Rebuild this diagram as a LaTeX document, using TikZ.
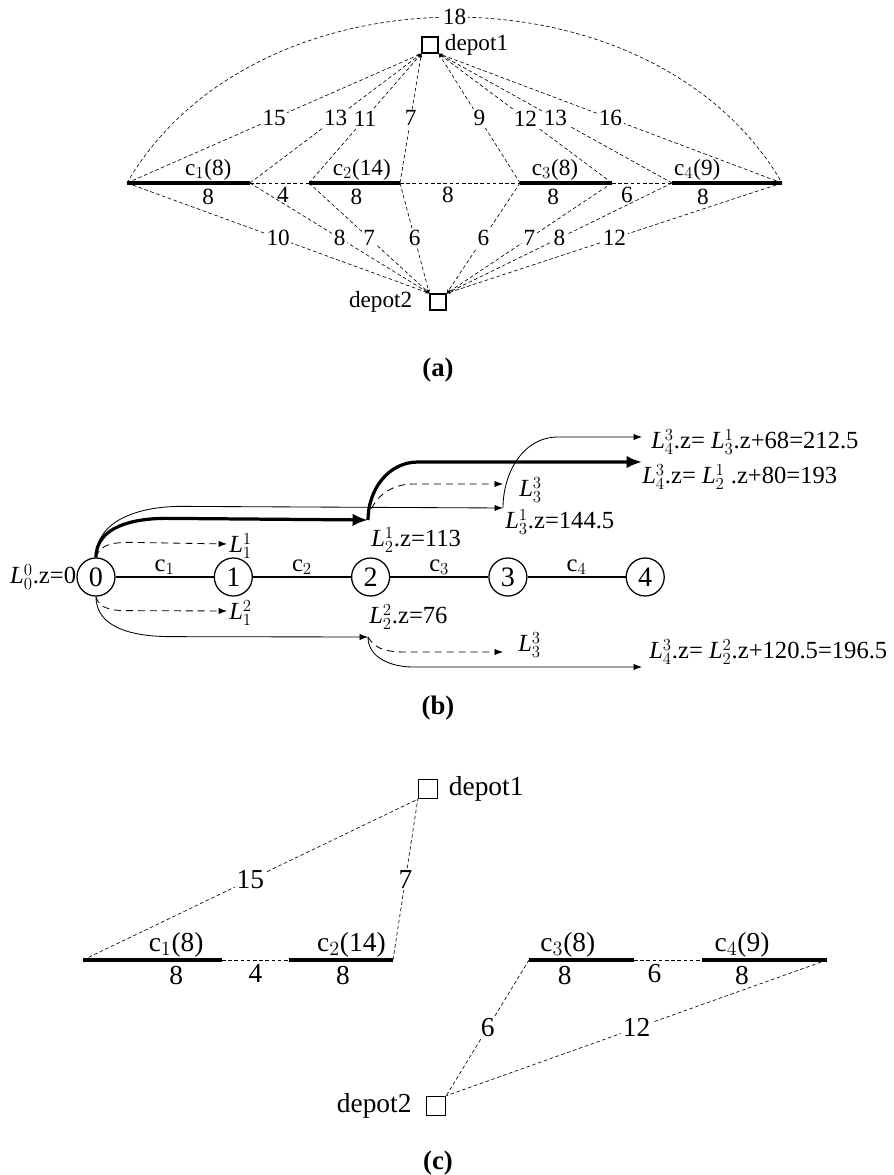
\documentclass[tikz,border=0pt]{standalone}
\usepackage{fontspec}
\setmainfont{Liberation Serif}
\usetikzlibrary{arrows.meta,positioning,calc}
\newcommand{\fsa}{\fontsize{16.5}{19}\selectfont}
\newcommand{\fsb}{\fontsize{17.5}{20}\selectfont}
\newcommand{\fsv}{\fontsize{20}{22}\selectfont}
\newcommand{\fsc}{\fontsize{19.5}{22}\selectfont}
\newcommand{\fcap}{\fontsize{19}{22}\selectfont}
\newcommand{\Lv}[2]{\textit{L}$^{#2}_{#1}$}
\tikzset{
  %% depot square
  depot/.style={rectangle,draw,line width=1pt,minimum size=0.4cm,inner sep=0pt},
  %% required (served) arc
  seg/.style={line width=2.2pt},
  %% deadhead link
  lnk/.style={line width=0.45pt,dash pattern=on 2.6pt off 1.8pt},
  lnkt/.style={lnk,-{Stealth[length=3pt,width=2.2pt]}},
  %% weights on links
  wgt/.style={fill=white,inner sep=1.2pt,font=\fsa},
  wgtc/.style={fill=white,inner sep=1.2pt,font=\fsc},
  abv/.style={above,inner sep=1pt},
  blw/.style={below,inner sep=3pt},
  %% label graph
  vtx/.style={circle,draw,line width=0.9pt,minimum size=0.95cm,inner sep=0pt,font=\fsv},
  base/.style={line width=1pt},
  thn/.style={line width=0.6pt,-{Latex[length=6pt,width=4.5pt]}},
  thk/.style={line width=2.3pt,-{Latex[length=11pt,width=9pt]}},
  dsh/.style={line width=0.6pt,dash pattern=on 5pt off 3.5pt,-{Latex[length=6pt,width=4.5pt]}},
  lbl/.style={font=\fsa,inner sep=0pt},
  lblb/.style={font=\fsb,inner sep=0pt,anchor=west},
  captxt/.style={font=\fcap\bfseries},
}
\begin{document}
\begin{tikzpicture}[x=0.025cm,y=-0.025cm]
  \useasboundingbox (0,0) rectangle (893,1175);

  %% ---- (a) complete graph ----
  \node[depot] (d1) at (430,45) {};
  \node[lbl,right=0.15cm of d1] (d1t) {depot1};
  \node[depot] (d2) at (438,302) {};
  \node[lbl,left=0.42cm of d2] (d2t) {depot2};

  \coordinate (p1) at (127,183);
  \coordinate (p2) at (250,183);
  \coordinate (p3) at (309,183);
  \coordinate (p4) at (400,183);
  \coordinate (p5) at (520,183);
  \coordinate (p6) at (612,183);
  \coordinate (p7) at (672,183);
  \coordinate (p8) at (782,183);

  %% required arcs
  \draw[seg] (p1) -- node[abv,font=\fsa,pos=0.66]{c$_1$(8)} node[blw,font=\fsa,pos=0.66]{8} (p2);
  \draw[seg] (p3) -- node[abv,font=\fsa,pos=0.58]{c$_2$(14)} node[blw,font=\fsa,pos=0.52]{8} (p4);
  \draw[seg] (p5) -- node[abv,font=\fsa,pos=0.38]{c$_3$(8)} node[blw,font=\fsa,pos=0.36]{8} (p6);
  \draw[seg] (p7) -- node[abv,font=\fsa,pos=0.23]{c$_4$(9)} node[blw,font=\fsa,pos=0.28]{8} (p8);

  %% links between arcs
  \draw[lnk] (p2) -- node[blw,font=\fsa,pos=0.56]{4} (p3);
  \draw[lnk] (p4) -- node[blw,font=\fsa,pos=0.4]{8} (p5);
  \draw[lnk] (p6) -- node[blw,font=\fsa,pos=0.25]{6} (p7);
  \draw[lnk] (p1) to[bend left=60] node[wgt]{18} (p8);

  %% links to depot1
  \draw[lnkt] (p1) -- node[wgt]{15} (d1.south west);
  \draw[lnkt] (p2) -- node[wgt]{13} (d1.south west);
  \draw[lnkt] (p3) -- node[wgt]{11} (d1.south west);
  \draw[lnkt] (p4) -- node[wgt]{7} (d1.south west);
  \draw[lnkt] (p5) -- node[wgt]{9} (d1.south east);
  \draw[lnkt] (p6) -- node[wgt]{12} (d1.south east);
  \draw[lnkt] (p7) -- node[wgt]{13} (d1.south east);
  \draw[lnkt] (p8) -- node[wgt]{16} (d1.south east);

  %% links to depot2
  \draw[lnkt] (p1) -- node[wgt]{10} (d2.north west);
  \draw[lnkt] (p2) -- node[wgt]{8} (d2.north west);
  \draw[lnkt] (p3) -- node[wgt]{7} (d2.north west);
  \draw[lnkt] (p4) -- node[wgt]{6} (d2.north west);
  \draw[lnkt] (p5) -- node[wgt]{6} (d2.north east);
  \draw[lnkt] (p6) -- node[wgt]{7} (d2.north east);
  \draw[lnkt] (p7) -- node[wgt]{8} (d2.north east);
  \draw[lnkt] (p8) -- node[wgt]{12} (d2.north east);

  \node[captxt] (capa) at (438,370) {(a)};

  %% ---- (b) labels ----
  \node[vtx] (n0) at (96,577) {0};
  \node[vtx,right=2.45cm of n0] (n1) {1};
  \node[vtx,right=2.45cm of n1] (n2) {2};
  \node[vtx,right=2.45cm of n2] (n3) {3};
  \node[vtx,right=2.45cm of n3] (n4) {4};
  \draw[base] (n0) -- node[abv,font=\fsb]{c$_1$} (n1);
  \draw[base] (n1) -- node[abv,font=\fsb]{c$_2$} (n2);
  \draw[base] (n2) -- node[abv,font=\fsb]{c$_3$} (n3);
  \draw[base] (n3) -- node[abv,font=\fsb]{c$_4$} (n4);
  \node[lblb,anchor=east,left=0pt of n0] (l00t) {\Lv{0}{0}.z=0};

  \coordinate (l11) at (227,544);
  \coordinate (l12) at (227,611);
  \coordinate (l21) at (368,520);
  \coordinate (l22) at (368,637);
  \coordinate (l31) at (503,508);
  \coordinate (l33a) at (503,484);
  \coordinate (l33b) at (503,652);
  \coordinate (l43a) at (642,462);
  \coordinate (l43b) at (642,437);
  \coordinate (l43c) at (642,667);

  %% from L_0^0
  \draw[dsh] (n0.north) to[out=75,in=180] ++(35,-15) -- (l11);
  \draw[dsh] (n0.south) to[out=-75,in=180] ++(35,14) -- (l12);
  \draw[thn] (n0.north) to[out=90,in=180] ++(85,-51) -- (l31);
  \draw[thk] (n0.north) to[out=90,in=180] ++(70,-39) -- (l21);
  \draw[thn] (n0.south) to[out=-90,in=180] ++(75,40) -- (l22);

  %% onward extensions
  \draw[thk] (l21) to[out=90,in=180] ++(50,-58) -- (l43a);
  \draw[dsh] (l21) to[out=80,in=180] ++(45,-36) -- (l33a);
  \draw[thn] (l31) to[out=90,in=180] ++(55,-71) -- (l43b);
  \draw[dsh] (l22) to[out=-60,in=180] ++(40,15) -- (l33b);
  \draw[thn] (l22) to[out=-90,in=180] ++(45,30) -- (l43c);

  \node[lblb] (l11t) at ($(l11)+(2,2)$) {\Lv{1}{1}};
  \node[lblb] (l12t) at ($(l12)+(2,2)$) {\Lv{1}{2}};
  \node[lblb] (l21t) at ($(l21)+(3,20)$) {\Lv{2}{1}.z=113};
  \node[lblb] (l22t) at ($(l22)+(1,-20)$) {\Lv{2}{2}.z=76};
  \node[lblb] (l31t) at ($(l31)+(2,14)$) {\Lv{3}{1}.z=144.5};
  \node[lblb] (l33at) at ($(l33a)+(16,6)$) {\Lv{3}{3}};
  \node[lblb] (l33bt) at ($(l33b)+(15,-7)$) {\Lv{3}{3}};
  \node[lblb] (l43at) at ($(l43a)+(0,15)$) {\Lv{4}{3}.z= \Lv{2}{1} .z+80=193};
  \node[lblb] (l43bt) at ($(l43b)+(9,5)$) {\Lv{4}{3}.z= \Lv{3}{1}.z+68=212.5};
  \node[lblb] (l43ct) at ($(l43c)+(7,-15)$) {\Lv{4}{3}.z= \Lv{2}{2}.z+120.5=196.5};

  \node[captxt] (capb) at (438,708) {(b)};

  %% ---- (c) resulting routes ----
  \node[depot,minimum size=0.475cm] (e1) at (428,789) {};
  \node[right=0.26cm of e1,inner sep=0pt,font=\fsc] (e1t) {depot1};
  \node[depot,minimum size=0.475cm] (e2) at (436,1106) {};
  \node[left=0.35cm of e2,inner sep=0pt,font=\fsc] (e2t) {depot2};

  \coordinate (q1) at (83,960);
  \coordinate (q2) at (222,960);
  \coordinate (q3) at (289,960);
  \coordinate (q4) at (393,960);
  \coordinate (q5) at (529,960);
  \coordinate (q6) at (634,960);
  \coordinate (q7) at (702,960);
  \coordinate (q8) at (827,960);

  \draw[seg] (q1) -- node[abv,font=\fsc,pos=0.67]{c$_1$(8)} node[blw,font=\fsc,pos=0.67]{8} (q2);
  \draw[seg] (q3) -- node[abv,font=\fsc,pos=0.6]{c$_2$(14)} node[blw,font=\fsc,pos=0.52]{8} (q4);
  \draw[seg] (q5) -- node[abv,font=\fsc,pos=0.37]{c$_3$(8)} node[blw,font=\fsc,pos=0.34]{8} (q6);
  \draw[seg] (q7) -- node[abv,font=\fsc,pos=0.32]{c$_4$(9)} node[blw,font=\fsc,pos=0.32]{8} (q8);

  \draw[lnk] (q2) -- node[blw,font=\fsc]{4} (q3);
  \draw[lnk] (q6) -- node[blw,font=\fsc,pos=0.3]{6} (q7);
  \draw[lnk] (q1) -- node[wgtc]{15} (e1.south west);
  \draw[lnk] (q4) -- node[wgtc]{7} (e1.south west);
  \draw[lnk] (q5) -- node[wgtc]{6} (e2.north east);
  \draw[lnk] (q8) -- node[wgtc]{12} (e2.north east);

  \node[captxt] (capc) at (438,1163) {(c)};

\end{tikzpicture}
\end{document}
